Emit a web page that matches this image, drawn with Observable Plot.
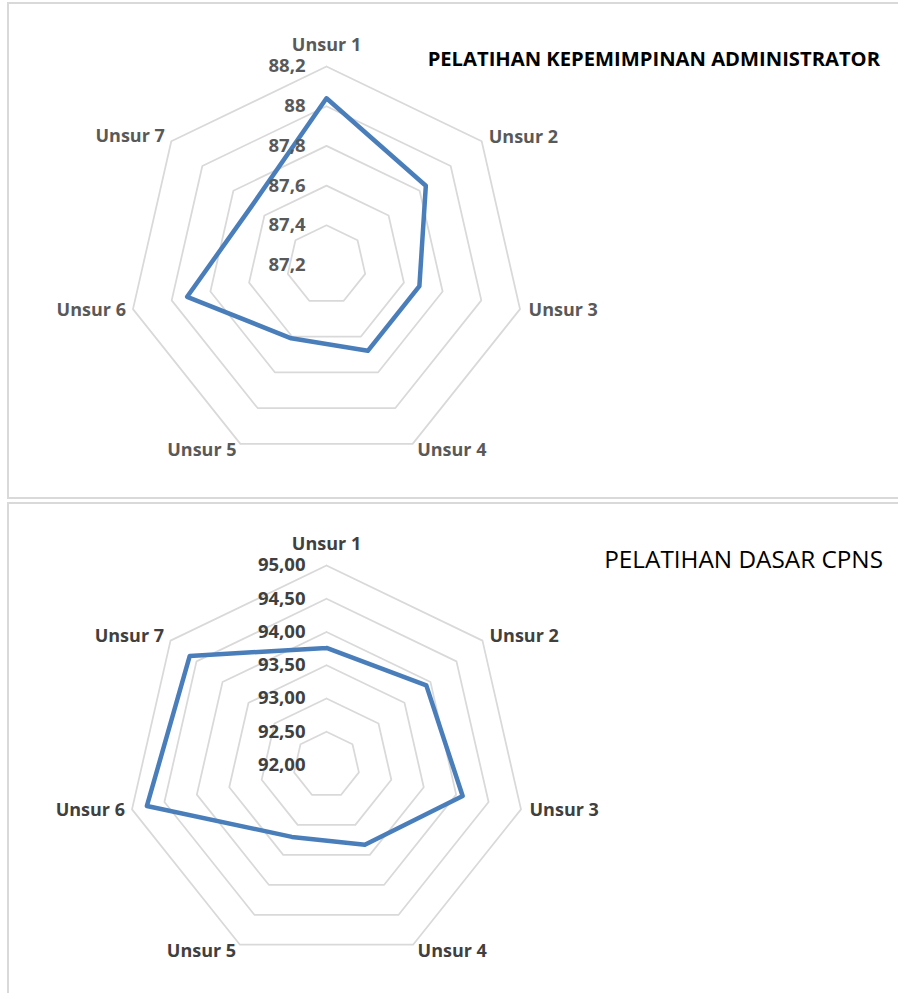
<!DOCTYPE html>
<html><head><meta charset="utf-8">
<script src="https://cdn.jsdelivr.net/npm/d3@7"></script>
<script src="https://cdn.jsdelivr.net/npm/@observablehq/plot@0.6"></script>
<style>
body{margin:0;width:898px;height:993px;overflow:hidden;background:#fff;font-family:"Open Sans",sans-serif;position:relative}
.panel{position:absolute;left:7px;width:900px;border:2px solid #d9d9d9;box-sizing:border-box;background:#fff}
#p1{top:2px;height:497px;}
#p2{top:502px;height:520px;}
.chart{position:absolute;left:0;}
.title{position:absolute;white-space:nowrap;line-height:1;color:#000}
</style></head><body>
<div class="panel" id="p1"></div>
<div class="panel" id="p2"></div>
<div class="chart" id="c1" style="top:0px"></div>
<div class="chart" id="c2" style="top:500px"></div>
<div class="title" id="t1" style="right:18px;top:47.5px;font-size:20.2px;font-weight:bold">PELATIHAN KEPEMIMPINAN ADMINISTRATOR</div>
<div class="title" id="t2" style="right:15px;top:546.5px;font-size:24.3px;font-weight:normal">PELATIHAN DASAR CPNS</div>
<script>
// ---- data ----
const categories = ["Unsur 1","Unsur 2","Unsur 3","Unsur 4","Unsur 5","Unsur 6","Unsur 7"];

const adminValues = [88.04, 87.84, 87.68, 87.68, 87.61, 87.92, 87.68];
const adminTicks = [87.2, 87.4, 87.6, 87.8, 88.0, 88.2];
const adminTickLabels = ["87,2","87,4","87,6","87,8","88","88,2"];

const cpnsValues = [93.76, 93.92, 94.10, 93.33, 93.20, 94.77, 94.63];
const cpnsTicks = [92.0, 92.5, 93.0, 93.5, 94.0, 94.5, 95.0];
const cpnsTickLabels = ["92,00","92,50","93,00","93,50","94,00","94,50","95,00"];

// ---- radar builder ----
function radar({values, ticks, tickLabels, cx, cy, R, height, textColor}) {
  const n = categories.length;
  const min = ticks[0], max = ticks[ticks.length - 1];
  const norm = v => (v - min) / (max - min);
  const ang = i => (i % n) * 2 * Math.PI / n;
  const pt = (i, r) => ({x: r * Math.sin(ang(i)), y: r * Math.cos(ang(i))});

  const rings = [];
  ticks.forEach((t, k) => {
    if (norm(t) <= 0) return;
    for (let i = 0; i <= n; i++) rings.push({ring: k, ...pt(i, norm(t))});
  });
  const series = [];
  for (let i = 0; i <= n; i++) series.push({cat: categories[i % n], ...pt(i, norm(values[i % n]))});
  const tickData = ticks.map((t, k) => ({x: 0, y: norm(t), label: tickLabels[k]}));
  const catData = categories.map((c, i) => ({cat: c, ...pt(i, 1)}));

  const anchors = ["middle","start","start","start","end","end","end"];
  const offs = [[0,-21.5],[7,-4.5],[8.5,1],[4.5,6.8],[-3.8,6.8],[-7,1],[-6.5,-4.8]];

  return Plot.plot({
    width: 898, height,
    style: {fontFamily: "'Open Sans', sans-serif", overflow: "visible", background: "transparent"},
    x: {domain: [-1, 1], range: [cx - R, cx + R], axis: null},
    y: {domain: [-1, 1], range: [cy + R, cy - R], axis: null},
    marks: [
      Plot.line(rings, {x: "x", y: "y", z: "ring", stroke: "#d9d9d9", strokeWidth: 1.75}),
      Plot.line(series, {x: "x", y: "y", stroke: "#4a7ebb", strokeWidth: 4.5, strokeLinejoin: "round", strokeLinecap: "round"}),
      Plot.text(tickData, {x: "x", y: "y", text: "label", textAnchor: "end", dx: -21, fontSize: 18.5, fontWeight: "bold", fill: textColor}),
      ...catData.map((d, i) => Plot.text([d], {x: "x", y: "y", text: "cat", textAnchor: anchors[i], dx: offs[i][0], dy: offs[i][1], fontSize: 18, fontWeight: "bold", fill: textColor}))
    ]
  });
}

document.getElementById("c1").append(radar({values: adminValues, ticks: adminTicks, tickLabels: adminTickLabels, cx: 326, cy: 264.5, R: 198.5, height: 496, textColor: "#595959"}));
document.getElementById("c2").append(radar({values: cpnsValues, ticks: cpnsTicks, tickLabels: cpnsTickLabels, cx: 326, cy: 264.5, R: 199.5, height: 493, textColor: "#404040"}));
</script>
</body></html>
